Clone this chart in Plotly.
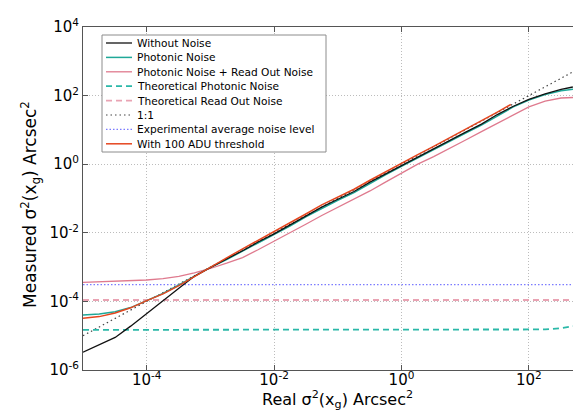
import plotly.graph_objects as go

# ---------------- data ----------------
x_common = [1.0e-5, 1.8e-5, 3.2e-5, 5.6e-5, 1.0e-4, 1.8e-4, 3.2e-4, 5.6e-4,
            1.0e-3, 1.8e-3, 3.2e-3, 5.6e-3, 1.0e-2, 1.8e-2, 3.2e-2, 5.6e-2,
            0.1, 0.18, 0.32, 0.56, 1.0, 1.8, 3.2, 5.6, 10, 18, 32, 56, 100, 180, 320]

x_without = x_common + [490]
y_without = [3.3e-6, 5.6e-6, 8.9e-6, 1.9e-5, 4.5e-5, 1.05e-4, 2.4e-4, 5.4e-4,
             9.8e-4, 1.74e-3, 3.0e-3, 5.4e-3, 9.3e-3, 1.7e-2, 3.2e-2, 5.6e-2,
             9.5e-2, 0.16, 0.30, 0.52, 0.93, 1.66, 2.8, 5.0, 8.5, 14.8, 28, 48,
             78, 112, 151, 178]

x_photonic = x_common + [560, 870]
y_photonic = [4.0e-5, 4.3e-5, 5.0e-5, 6.6e-5, 1.05e-4, 1.7e-4, 3.0e-4, 5.5e-4,
              9.8e-4, 1.66e-3, 2.9e-3, 5.1e-3, 8.9e-3, 1.6e-2, 2.95e-2, 5.2e-2,
              8.9e-2, 0.148, 0.275, 0.49, 0.87, 1.55, 2.6, 4.7, 7.9, 13.8, 26, 46,
              74, 107, 138, 158, 166]

x_ron = x_common + [560, 870]
y_ron = [3.6e-4, 3.7e-4, 3.9e-4, 4.0e-4, 4.2e-4, 4.6e-4, 5.4e-4, 6.8e-4,
         9.1e-4, 1.3e-3, 1.9e-3, 3.2e-3, 5.6e-3, 1.0e-2, 1.8e-2, 3.2e-2,
         5.5e-2, 9.3e-2, 0.166, 0.30, 0.56, 1.0, 1.66, 2.8, 5.0, 8.9, 15.8, 27.5,
         47, 69, 85, 89, 87]

x_threshold = [1.0e-5, 1.8e-5, 3.2e-5, 5.6e-5, 1.0e-4, 1.8e-4, 3.2e-4, 5.6e-4,
               1.0e-3, 1.8e-3, 3.2e-3, 5.6e-3, 1.0e-2, 1.8e-2, 3.2e-2, 5.6e-2,
               0.1, 0.18, 0.32, 0.56, 1.0, 1.8, 3.2, 5.6, 10, 18, 32, 52]
y_threshold = [3.2e-5, 3.6e-5, 4.6e-5, 6.5e-5, 1.05e-4, 1.66e-4, 2.9e-4, 5.2e-4,
               1.0e-3, 1.86e-3, 3.4e-3, 6.0e-3, 1.05e-2, 1.9e-2, 3.6e-2, 6.5e-2,
               0.11, 0.186, 0.34, 0.60, 1.05, 1.9, 3.3, 5.8, 10, 17.8, 33, 55]

x_theo_phot = [1e-5, 1e-4, 1e-3, 1e-2, 0.1, 1, 10, 100, 180, 320, 560, 870]
y_theo_phot = [1.48e-5, 1.48e-5, 1.48e-5, 1.48e-5, 1.48e-5, 1.48e-5, 1.48e-5,
               1.48e-5, 1.52e-5, 1.65e-5, 1.95e-5, 2.5e-5]

x_theo_ron = [1e-5, 870]
y_theo_ron = [1.1e-4, 1.1e-4]

x_one = [1e-5, 870]
y_one = [1e-5, 870]

x_exp = [1e-5, 870]
y_exp = [3.1e-4, 3.1e-4]

names = ["Without Noise", "Photonic Noise", "Photonic Noise + Read Out Noise",
         "Theoretical Photonic Noise", "Theoretical Read Out Noise", "1:1",
         "Experimental average noise level", "With 100 ADU threshold"]

x_tickvals = [1e-4, 1e-2, 1, 100]
x_ticktext = ["10<sup>-4</sup>", "10<sup>-2</sup>", "10<sup>0</sup>", "10<sup>2</sup>"]
y_tickvals = [1e-6, 1e-4, 1e-2, 1, 100, 1e4]
y_ticktext = ["10<sup>-6</sup>", "10<sup>-4</sup>", "10<sup>-2</sup>",
              "10<sup>0</sup>", "10<sup>2</sup>", "10<sup>4</sup>"]

# ---------------- styles ----------------
C_BLACK = "#111111"
C_TEAL = "#1fa898"
C_PINK = "#df7a8e"
C_TEAL_D = "#2bb8a8"
C_PINK_D = "#e9a3b3"
C_ONE = "#444444"
C_BLUE = "#7b7bff"
C_RED = "#e5461f"

styles = [
    dict(color=C_BLACK, width=1.3, dash="solid"),
    dict(color=C_TEAL, width=1.5, dash="solid"),
    dict(color=C_PINK, width=1.3, dash="solid"),
    dict(color=C_TEAL_D, width=1.8, dash="6px,4px"),
    dict(color=C_PINK_D, width=1.8, dash="6px,4px"),
    dict(color=C_ONE, width=1.2, dash="1.5px,3px"),
    dict(color=C_BLUE, width=1.2, dash="1.5px,2px"),
    dict(color=C_RED, width=1.5, dash="solid"),
]

series = [
    (x_without, y_without),
    (x_photonic, y_photonic),
    (x_ron, y_ron),
    (x_theo_phot, y_theo_phot),
    (x_theo_ron, y_theo_ron),
    (x_one, y_one),
    (x_exp, y_exp),
    (x_threshold, y_threshold),
]

# drawing order (bottom to top)
order = [5, 6, 4, 3, 2, 1, 0, 7]

fig = go.Figure()
for i in order:
    xs, ys = series[i]
    fig.add_trace(go.Scatter(x=xs, y=ys, mode="lines", name=names[i],
                             line=styles[i], showlegend=False))

FONT = "DejaVu Sans"
L, R, T, B = 75, 0, 19, 57
W, H = 581, 419
PW, PH = W - L - R, H - T - B


def px(xp):
    return (xp - L) / PW


def py(yp):
    return (H - B - yp) / PH


axis_common = dict(
    type="log", showline=True, linecolor="#555555", linewidth=1,
    ticks="inside", ticklen=5, tickcolor="#555555", tickwidth=1,
    showgrid=True, gridcolor="#bcbcbc", griddash="1px,2px", gridwidth=1,
    zeroline=False, tickmode="array",
    tickfont=dict(family=FONT, size=15, color="black"),
)

fig.update_xaxes(**axis_common, range=[-5, 2.944], tickvals=x_tickvals,
                 ticktext=x_ticktext, mirror="ticks", ticklabelstandoff=-4)
fig.update_yaxes(**axis_common, range=[-6, 4], tickvals=y_tickvals,
                 ticktext=y_ticktext)

shapes = []
annotations = []

# legend box
shapes.append(dict(type="rect", xref="paper", yref="paper",
                   x0=px(94), x1=px(318), y0=py(144), y1=py(27),
                   line=dict(color="#8c8c8c", width=1), fillcolor="white",
                   layer="above"))
for k, name in enumerate(names):
    yc = 35 + 14.4 * k
    st = styles[k]
    shapes.append(dict(type="line", xref="paper", yref="paper",
                       x0=px(98), x1=px(124), y0=py(yc), y1=py(yc),
                       line=dict(color=st["color"], width=st["width"], dash=st["dash"]),
                       layer="above"))
    annotations.append(dict(xref="paper", yref="paper", x=px(127), y=py(yc),
                            text=name, showarrow=False, xanchor="left",
                            yanchor="middle",
                            font=dict(family=FONT, size=10.6, color="black")))

# axis titles
annotations.append(dict(xref="paper", yref="paper", x=px(329), y=py(391),
                        text="Real \u03c3<sup>2</sup>(x<sub>g</sub>) Arcsec<sup>2</sup>",
                        showarrow=False, xanchor="center", yanchor="middle",
                        font=dict(family=FONT, size=16, color="black")))
annotations.append(dict(xref="paper", yref="paper", x=px(22), y=py(197),
                        text="Measured \u03c3<sup>2</sup>(x<sub>g</sub>) Arcsec<sup>2</sup>",
                        showarrow=False, xanchor="center", yanchor="middle",
                        textangle=-90,
                        font=dict(family=FONT, size=17, color="black")))

fig.update_layout(
    width=W, height=H,
    margin=dict(l=L, r=R, t=T, b=B),
    paper_bgcolor="white", plot_bgcolor="white",
    shapes=shapes, annotations=annotations,
    showlegend=False,
    font=dict(family=FONT, color="black"),
)

fig.write_html("out.html")
